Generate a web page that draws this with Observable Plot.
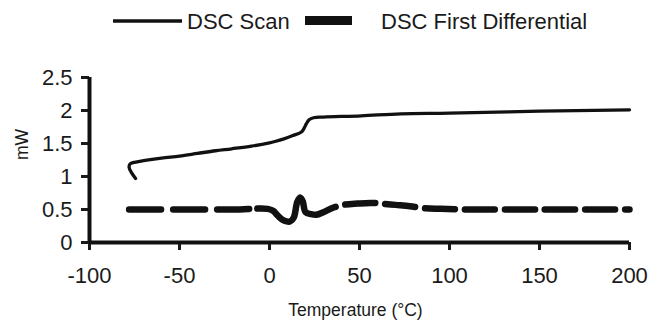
<!DOCTYPE html>
<html>
<head>
<meta charset="utf-8">
<script src="https://cdn.jsdelivr.net/npm/d3@7"></script>
<script src="https://cdn.jsdelivr.net/npm/@observablehq/plot@0.6"></script>
<style>
  html, body { margin: 0; padding: 0; background: #fff; }
  #wrap { position: relative; width: 649px; height: 323px; font-family: "Liberation Sans", Arial, sans-serif; }
  #legend { position: absolute; left: 0; top: 0; }
  #chart { position: absolute; left: 0; top: 0; }
</style>
</head>
<body>
<div id="wrap">
  <div id="chart"></div>
  <svg id="legend" width="649" height="45"></svg>
</div>
<script>
// ---- data ----
const seriesNames = ["DSC Scan", "DSC First Differential"];

const scanTemp = [-74.4, -76.5, -78, -77.5, -75.8, -70, -60, -50, -40, -30, -21, -10, 0, 3, 8, 13, 17.5, 19, 20.5, 22, 24.5, 30, 51, 73, 100, 150, 200];
const scanMW   = [0.97, 1.05, 1.14, 1.19, 1.21, 1.24, 1.28, 1.31, 1.35, 1.39, 1.42, 1.46, 1.51, 1.53, 1.57, 1.62, 1.67, 1.72, 1.80, 1.86, 1.89, 1.90, 1.92, 1.95, 1.96, 1.99, 2.01];

const diffTemp = [-78, -50, -20, -1, 2, 4.5, 7, 9.5, 11.5, 13.5, 15.5, 17.2, 18.5, 20, 23, 26, 30, 35.6, 41, 49, 56, 62, 70, 78, 86, 95, 110, 150, 200];
const diffMW   = [0.50, 0.50, 0.50, 0.51, 0.48, 0.41, 0.35, 0.32, 0.32, 0.38, 0.62, 0.68, 0.62, 0.46, 0.43, 0.42, 0.46, 0.53, 0.57, 0.59, 0.60, 0.59, 0.57, 0.55, 0.52, 0.51, 0.50, 0.50, 0.50];

const xTicks = [-100, -50, 0, 50, 100, 150, 200];
const xTickLabels = ["-100", "-50", "0", "50", "100", "150", "200"];
const yTicks = [0, 0.5, 1, 1.5, 2, 2.5];
const yTickLabels = ["0", "0.5", "1", "1.5", "2", "2.5"];
const xLabel = "Temperature (°C)";
const yLabel = "mW";

// ---- tables ----
const scan = scanTemp.map((t, i) => ({t, v: scanMW[i]}));
const diff = diffTemp.map((t, i) => ({t, v: diffMW[i]}));

// dash style: regular long dashes, but a continuous stroke across the transition wiggle
const dashStyle = [32, 12, 32, 12, 32, 8, 112, 10];
for (let k = 0; k < 12; k++) dashStyle.push(30, 10);

const chart = Plot.plot({
  width: 649,
  height: 323,
  marginLeft: 89,
  marginRight: 20,
  marginTop: 77,
  marginBottom: 81,
  x: {domain: [-100, 200]},
  y: {domain: [0, 2.5]},
  style: {fontFamily: "'Liberation Sans', Arial, sans-serif", fontSize: "22px", color: "#1a1a1a", background: "white"},
  marks: [
    Plot.axisX(xTicks, {tickSize: 8, tickPadding: 17, strokeWidth: 3, label: null, fontSize: 22,
      tickFormat: d => xTickLabels[xTicks.indexOf(d)]}),
    Plot.axisY(yTicks, {tickSize: 8, tickPadding: 9, strokeWidth: 3, label: null, fontSize: 22,
      tickFormat: d => yTickLabels[yTicks.indexOf(d)]}),
    Plot.ruleX([-100], {strokeWidth: 4, stroke: "#111"}),
    Plot.ruleY([0], {strokeWidth: 4, stroke: "#111"}),
    Plot.line(scan, {x: "t", y: "v", stroke: "#111", strokeWidth: 3.3, curve: "catmull-rom"}),
    Plot.line(diff, {x: "t", y: "v", stroke: "#111", strokeWidth: 6.5, strokeDasharray: dashStyle.join(","), curve: "catmull-rom"}),
    Plot.text([xLabel], {text: d => d, frameAnchor: "bottom", dy: 73, dx: -4, fontSize: 17.5, fill: "#1a1a1a"}),
    Plot.text([yLabel], {text: d => d, frameAnchor: "left", rotate: -90, dx: -67, fontSize: 17.5, fill: "#1a1a1a"})
  ]
});
document.getElementById("chart").appendChild(chart);

// ---- legend ----
const lg = d3.select("#legend");
lg.append("line").attr("x1", 113).attr("x2", 182).attr("y1", 21).attr("y2", 21)
  .attr("stroke", "#111").attr("stroke-width", 3.5);
lg.append("text").attr("x", 187).attr("y", 29).attr("font-size", 22).attr("fill", "#1a1a1a")
  .attr("font-family", "'Liberation Sans', Arial, sans-serif").text(seriesNames[0]);
lg.append("line").attr("x1", 305).attr("x2", 352).attr("y1", 20.5).attr("y2", 20.5)
  .attr("stroke", "#111").attr("stroke-width", 9);
lg.append("text").attr("x", 381).attr("y", 29).attr("font-size", 22).attr("fill", "#1a1a1a")
  .attr("font-family", "'Liberation Sans', Arial, sans-serif").text(seriesNames[1]);
</script>
</body>
</html>
